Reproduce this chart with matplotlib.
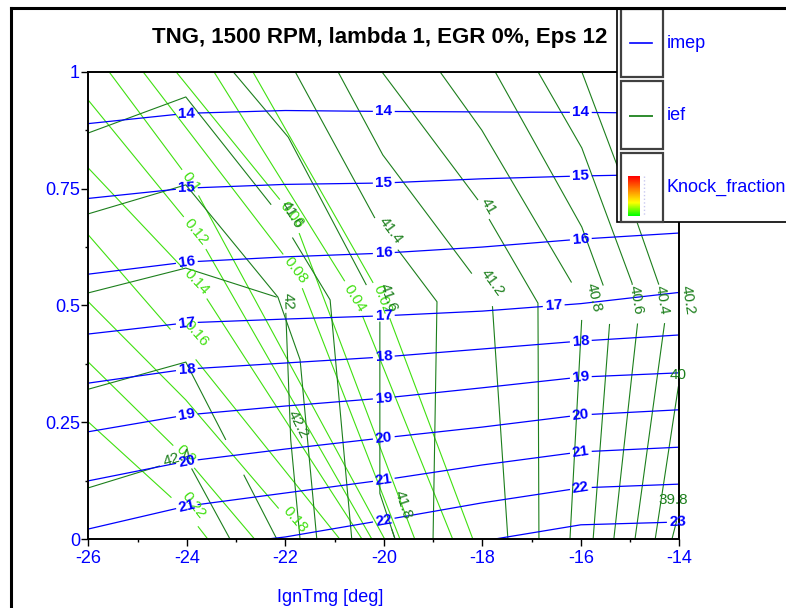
import numpy as np
import matplotlib
matplotlib.use('Agg')
import matplotlib.pyplot as plt
from matplotlib.lines import Line2D
from matplotlib.patches import Rectangle
from matplotlib.colors import LinearSegmentedColormap

plt.rcParams['font.family'] = ['Liberation Sans', 'DejaVu Sans']

title = 'TNG, 1500 RPM, lambda 1, EGR 0%, Eps 12'
x_label = 'IgnTmg [deg]'
legend_names = ['imep', 'ief', 'Knock_fraction']
x_ticks = [-26, -24, -22, -20, -18, -16, -14]
x_minor = [-25, -23, -21, -19, -17, -15]
y_ticks = [0, 0.25, 0.5, 0.75, 1]
y_tick_labels = ['0', '0.25', '0.5', '0.75', '1']
y_minor = [0.125, 0.375, 0.625, 0.875]

ign_nodes = [-26, -24, -22, -20, -18, -16, -14]

# imep contour lines: (x, y) of each level
imep_lines = {
    '14': (ign_nodes, [0.889, 0.911, 0.917, 0.915, 0.914, 0.913, 0.911]),
    '15': (ign_nodes, [0.729, 0.751, 0.759, 0.762, 0.771, 0.777, 0.781]),
    '16': (ign_nodes, [0.567, 0.593, 0.604, 0.612, 0.625, 0.642, 0.655]),
    '17': (ign_nodes, [0.439, 0.463, 0.471, 0.478, 0.488, 0.504, 0.528]),
    '18': (ign_nodes, [0.334, 0.364, 0.377, 0.390, 0.407, 0.424, 0.437]),
    '19': (ign_nodes, [0.230, 0.266, 0.285, 0.302, 0.324, 0.347, 0.356]),
    '20': (ign_nodes, [0.125, 0.167, 0.193, 0.217, 0.240, 0.266, 0.277]),
    '21': (ign_nodes, [0.022, 0.071, 0.099, 0.127, 0.159, 0.187, 0.197]),
    '22': ([-22.41, -22, -20, -18, -16, -14], [0.0, 0.005, 0.041, 0.078, 0.110, 0.118]),
    '23': ([-17.78, -16, -14], [0.0, 0.031, 0.037]),
}
imep_label_x = {
    '14': [-24, -20, -16], '15': [-24, -20, -16], '16': [-24, -20, -16],
    '17': [-24, -20, -16.55], '18': [-24, -20, -16], '19': [-24, -20, -16],
    '20': [-24, -20, -16], '21': [-24, -20, -16], '22': [-20, -16], '23': [-14.03],
}

# knock fraction contour lines
knock_lines = {
    '0.02': ([-22.66, -20.02, -18.19], [1.0, 0.512, 0.0]),
    '0.04': ([-23.45, -20.58, -18.60], [1.0, 0.516, 0.0]),
    '0.06': ([-24.22, -21.86, -19.37], [1.0, 0.694, 0.0]),
    '0.08': ([-24.89, -21.80, -19.67], [1.0, 0.576, 0.0]),
    '0.1': ([-25.58, -23.91, -19.98], [1.0, 0.764, 0.0]),
    '0.12': ([-26.0, -23.81, -20.24], [0.939, 0.657, 0.0]),
    '0.14': ([-26.0, -23.81, -20.44], [0.794, 0.550, 0.0]),
    '0.16': ([-26.0, -24.02, -20.89], [0.651, 0.411, 0.0]),
    '0.18': ([-26.0, -24.02, -21.60], [0.508, 0.298, 0.0]),
    '0.2': ([-26.0, -24.02, -22.62], [0.379, 0.174, 0.0]),
    '0.22': ([-26.0, -24.02, -23.57], [0.251, 0.061, 0.0]),
}
knock_labels = {
    '0.02': [(-20.02, 0.512)], '0.04': [(-20.59, 0.516)], '0.06': [(-21.86, 0.694)],
    '0.08': [(-21.80, 0.576)], '0.1': [(-23.91, 0.764)], '0.12': [(-23.81, 0.657)],
    '0.14': [(-23.81, 0.550)], '0.16': [(-23.81, 0.441)], '0.18': [(-21.80, 0.041)],
    '0.2': [(-24.02, 0.181)], '0.22': [(-23.87, 0.073)],
}

# ief contour lines (several pieces share a level); label anchors may carry a fixed angle
ief_lines = [
    ('41.6', [-26, -24.02, -22.17, -21.09, -20.65], [0.869, 0.946, 0.700, 0.512, 0.0], [(-21.86, 0.694)]),
    ('41.8', [-26, -24.02, -22.15, -21.70, -21.36], [0.696, 0.758, 0.518, 0.384, 0.0], []),
    ('42', [-26, -24.02, -22.0, -21.89, -21.70], [0.527, 0.580, 0.512, 0.213, 0.0], [(-21.94, 0.508)]),
    ('42.2', [-26, -24.02, -22.17], [0.321, 0.379, 0.0], [(-21.74, 0.245)]),
    ('42.4', [-26, -24.02, -23.12], [0.110, 0.174, 0.0], [(-24.18, 0.174)]),
    ('41.6', [-23.06, -21.94, -20.28, -20.08, -20.08, -19.77], [1.0, 0.860, 0.529, 0.469, 0.098, 0.0], [(-19.91, 0.516)]),
    ('41.8', [-20.08, -19.77], [0.098, 0.0], [(-19.61, 0.073)]),
    ('41.4', [-21.80, -20.14, -18.92, -19.0], [1.0, 0.679, 0.508, 0.0], [(-19.85, 0.661)]),
    ('41.2', [-20.93, -20.02, -18.19, -17.80, -17.48], [1.0, 0.822, 0.565, 0.508, 0.0], [(-17.80, 0.548)]),
    ('41', [-20.04, -18.09, -16.87, -16.85], [1.0, 0.726, 0.505, 0.0], [(-17.88, 0.711)]),
    ('40.8', [-18.86, -18.01, -16.12, -15.98, -16.22], [1.0, 0.875, 0.537, 0.473, 0.0], [(-15.73, 0.518)]),
    ('40.6', [-17.74, -15.98, -15.51, -15.41, -15.75], [1.0, 0.668, 0.533, 0.469, 0.0], [(-14.88, 0.512)]),
    ('40.4', [-16.87, -15.98, -14.96, -14.84, -15.33], [1.0, 0.837, 0.548, 0.469, 0.0], [(-14.35, 0.512)]),
    ('40.2', [-15.98, -15.25, -14.39, -14.29, -14.90], [1.0, 0.796, 0.537, 0.469, 0.0], [(-13.83, 0.512)]),
    ('40', [-13.58, -14.0, -14.49], [0.619, 0.340, 0.0], [(-14.03, 0.351, 0)]),
    ('39.8', [-13.79, -14.15], [0.148, 0.0], [(-14.13, 0.084, 0)]),
]

BLUE = '#0000ff'
DARK_GREEN = '#1c7f1c'
LIGHT_GREEN = '#40e010'

W, H = 786, 608
fig = plt.figure(figsize=(W / 100, H / 100), dpi=100)
ax = fig.add_axes([88.3 / W, 1 - 539.3 / H, 591 / W, 467.6 / H])
ax.set_xlim(-26, -14)
ax.set_ylim(0, 1)


def draw_level(ax, xs, ys, text, anchors, color, size, weight='normal', lw=0.8):
    pts = ax.transData.transform(np.column_stack([xs, ys]))
    d = np.diff(pts, axis=0)
    seg_len = np.hypot(d[:, 0], d[:, 1])
    s = np.concatenate([[0.0], np.cumsum(seg_len)])
    half = 0.5 * len(text) * 0.56 * size * 100 / 72 + 3
    gaps = []
    for anc in anchors:
        lx, ly = anc[0], anc[1]
        p = ax.transData.transform((lx, ly))
        best = (np.inf, 0.0, 0)
        for i in range(len(d)):
            t = np.clip(np.dot(p - pts[i], d[i]) / max(seg_len[i] ** 2, 1e-9), 0, 1)
            dist = np.hypot(*(pts[i] + t * d[i] - p))
            if dist < best[0]:
                best = (dist, s[i] + t * seg_len[i], i)
        _, s0, i = best
        ang = np.degrees(np.arctan2(d[i, 1], d[i, 0]))
        if ang > 90:
            ang -= 180
        elif ang <= -90:
            ang += 180
        if len(anc) > 2:
            ang = anc[2]
        ax.text(lx, ly, text, color=color, fontsize=size, fontweight=weight, rotation=ang,
                rotation_mode='anchor', ha='center', va='center', clip_on=False)
        gaps.append((s0 - half, s0 + half))
    knots = np.concatenate([s] + [np.array(g) for g in gaps])
    knots = np.unique(np.clip(knots, 0, s[-1]))
    kx = np.interp(knots, s, pts[:, 0])
    ky = np.interp(knots, s, pts[:, 1])
    back = ax.transData.inverted().transform(np.column_stack([kx, ky]))
    out_x, out_y = [], []
    for k in range(len(knots) - 1):
        mid = 0.5 * (knots[k] + knots[k + 1])
        if any(a < mid < b for a, b in gaps):
            out_x.append(np.nan)
            out_y.append(np.nan)
        else:
            out_x += [back[k, 0], back[k + 1, 0]]
            out_y += [back[k, 1], back[k + 1, 1]]
    ax.plot(out_x, out_y, color=color, lw=lw)


for lvl, (xs, ys) in knock_lines.items():
    draw_level(ax, xs, ys, lvl, knock_labels[lvl], LIGHT_GREEN, 11, lw=0.8)

for lvl, xs, ys, anchors in ief_lines:
    draw_level(ax, xs, ys, lvl, anchors, DARK_GREEN, 11, lw=0.8)

for lvl, (xs, ys) in imep_lines.items():
    anchors = [(lx, np.interp(lx, xs, ys)) for lx in imep_label_x[lvl]]
    draw_level(ax, xs, ys, lvl, anchors, BLUE, 11, weight='bold', lw=0.9)

# axes styling
ax.set_xticks(x_ticks)
ax.set_xticklabels([str(v) for v in x_ticks])
ax.set_xticks(x_minor, minor=True)
ax.set_yticks(y_ticks)
ax.set_yticklabels(y_tick_labels)
ax.set_yticks(y_minor, minor=True)
ax.tick_params(which='major', direction='out', length=5, width=1, labelsize=13, labelcolor=BLUE)
ax.tick_params(which='minor', direction='out', length=2, width=1)
ax.tick_params(axis='y', pad=1)
ax.tick_params(axis='x', pad=3)
for sp in ax.spines.values():
    sp.set_linewidth(1.4)

# outer frame
fig.add_artist(Line2D([11 / W, 11 / W], [0, 1 - 8 / H], color='black', lw=2.2))
fig.add_artist(Line2D([11 / W, 1], [1 - 8 / H, 1 - 8 / H], color='black', lw=2.2))

fig.text(380 / W, 1 - 38 / H, title, fontsize=16, fontweight='bold', ha='center', va='center')
fig.text(330 / W, 1 - 597 / H, x_label, color=BLUE, fontsize=13, ha='center', va='center')

# legend panel
fig.add_artist(Rectangle((617 / W, 1 - 222 / H), (W - 617) / W + 0.01, (222 - 8) / H,
                         facecolor='white', edgecolor='black', lw=1.2))
box_rows = [(9, 77), (81, 149), (153, 222)]
for (top, bot), name in zip(box_rows, legend_names):
    fig.add_artist(Rectangle((621 / W, 1 - bot / H), 42 / W, (bot - top) / H,
                             fill=False, edgecolor='#404040', lw=1.6))
    fig.text(667 / W, 1 - (top + bot) / 2 / H, name, color=BLUE, fontsize=13, va='center')
fig.add_artist(Line2D([630 / W, 652 / W], [1 - 43 / H] * 2, color=BLUE, lw=1.2))
fig.add_artist(Line2D([630 / W, 652 / W], [1 - 116 / H] * 2, color='#2e8b2e', lw=1.4))
fig.add_artist(Line2D([644 / W, 644 / W], [1 - 176 / H, 1 - 216 / H], color='#c8c8f0', lw=1, ls=':'))

knock_cmap = LinearSegmentedColormap.from_list('knock', ['#00ff00', '#ffff00', '#ff8000', '#ff0000'])
cax = fig.add_axes([628 / W, 1 - 216 / H, 12 / W, 40 / H])
cax.imshow(np.linspace(1, 0, 60)[:, None], aspect='auto', cmap=knock_cmap)
cax.axis('off')
cax.set_zorder(5)

fig.savefig('out.png', dpi=100)
